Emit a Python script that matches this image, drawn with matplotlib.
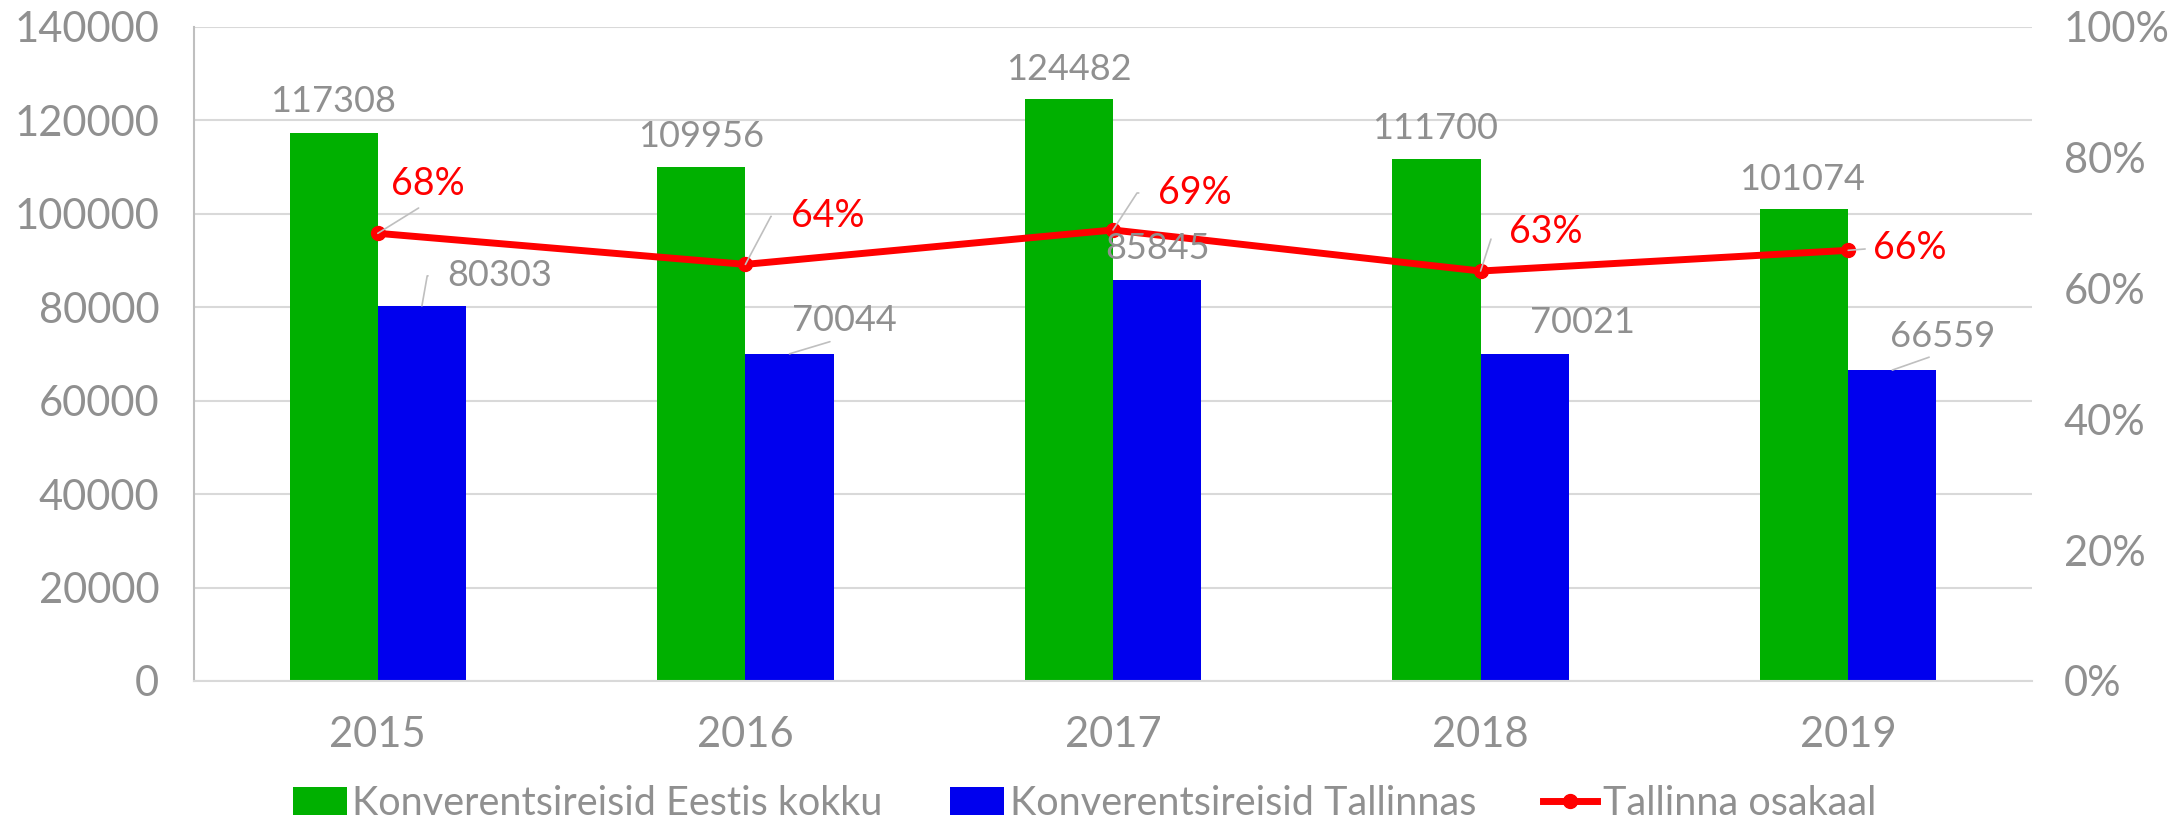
import matplotlib
matplotlib.use("Agg")
import matplotlib.pyplot as plt
from matplotlib.ticker import FuncFormatter
import numpy as np

plt.rcParams["font.family"] = ["Lato", "DejaVu Sans"]

years = ["2015", "2016", "2017", "2018", "2019"]
eesti = [117308, 109956, 124482, 111700, 101074]
tallinn = [80303, 70044, 85845, 70021, 66559]
share = [t / e for t, e in zip(tallinn, eesti)]

name_eesti = "Konverentsireisid Eestis kokku"
name_tallinn = "Konverentsireisid Tallinnas"
name_share = "Tallinna osakaal"

GREEN = "#00b000"
BLUE = "#0000ee"
RED = "#ff0000"
GREY = "#909090"
GRID = "#d9d9d9"
LEADER = "#bfbfbf"

# label offsets in pixels from the mark (text centre), plus leader style
eesti_off = [(-1, 32), (0, 31), (0, 30), (-1, 31), (-2, 29)]
tallinn_off = [(78, 30), (55, 33), (0, 31), (58, 31), (50, 34)]
tallinn_lead = [("elbow", 80), ("bottom", None), None, None, ("bottom", None)]
share_off = [(50, 49), (82, 48), (82, 37), (65, 39), (62, 2)]
share_lead = [("bottom", None), ("elbow", 62), ("elbow", 57), ("elbow", 72), ("left", None)]

fig = plt.figure(figsize=(21.69, 8.19), dpi=100)
ax = fig.add_axes([194 / 2169, 138 / 819, 1838 / 2169, 654 / 819])
ax2 = ax.twinx()

x = np.arange(len(years))
w = 0.24
ax.bar(x - w / 2, eesti, w, color=GREEN, label=name_eesti, zorder=2)
ax.bar(x + w / 2, tallinn, w, color=BLUE, label=name_tallinn, zorder=2)
ax2.plot(x, share, color=RED, lw=5, marker="o", ms=10, label=name_share, zorder=3)

ax.set_xlim(-0.5, len(years) - 0.5)
ax.set_ylim(0, 140000)
ax.set_yticks(np.arange(0, 140001, 20000))
ax2.set_ylim(0, 1)
ax2.set_yticks(np.arange(0, 1.01, 0.2))
ax2.yaxis.set_major_formatter(FuncFormatter(lambda v, p: f"{v * 100:.0f}%"))
ax.set_xticks(x)
ax.set_xticklabels(years)

ax.grid(axis="y", color=GRID, lw=1.5, zorder=0)
ax.set_axisbelow(True)
for a in (ax, ax2):
    for s in ("top", "right", "left", "bottom"):
        a.spines[s].set_visible(False)
ax.spines["left"].set_visible(True)
ax.spines["left"].set_color(LEADER)
ax.spines["left"].set_linewidth(1.5)
ax.spines["bottom"].set_visible(True)
ax.spines["bottom"].set_color(GRID)
ax.spines["bottom"].set_linewidth(1.5)

ax.tick_params(axis="y", length=0, pad=25, labelsize=30, labelcolor=GREY)
ax.tick_params(axis="x", length=0, pad=25, labelsize=30, labelcolor=GREY)
ax2.tick_params(axis="y", length=0, pad=23, labelsize=30, labelcolor=GREY)


def leader(kind, ang):
    props = dict(arrowstyle="-", color=LEADER, lw=1.2, shrinkA=4, shrinkB=0)
    if kind == "elbow":
        props["relpos"] = (0, 0.5)
        props["connectionstyle"] = f"angle,angleA=0,angleB={ang},rad=0"
        props["shrinkA"] = 12
    elif kind == "bottom":
        props["relpos"] = (0.5, 0)
    elif kind == "left":
        props["relpos"] = (0, 0.5)
    return props


for i in range(len(years)):
    ax2.annotate(str(eesti[i]), xy=(x[i] - w / 2, eesti[i]), xycoords=ax.transData,
                 xytext=eesti_off[i], textcoords="offset pixels",
                 ha="center", va="center", fontsize=26, color=GREY)
    lead = tallinn_lead[i]
    ax2.annotate(str(tallinn[i]), xy=(x[i] + w / 2, tallinn[i]), xycoords=ax.transData,
                 xytext=tallinn_off[i], textcoords="offset pixels",
                 ha="center", va="center", fontsize=26, color=GREY,
                 arrowprops=leader(*lead) if lead else None, zorder=4)
    lead = share_lead[i]
    ax2.annotate(f"{share[i] * 100:.0f}%", xy=(x[i], share[i]),
                 xytext=share_off[i], textcoords="offset pixels",
                 ha="center", va="center", fontsize=27, color=RED,
                 arrowprops=leader(*lead) if lead else None, zorder=4)

h1, l1 = ax.get_legend_handles_labels()
h2, l2 = ax2.get_legend_handles_labels()
leg = fig.legend(h1 + h2, l1 + l2, loc="center", bbox_to_anchor=(0.5, 0.019), ncol=3,
                 frameon=False, fontsize=28.5, handlelength=1.35, handletextpad=0.15,
                 columnspacing=1.7, borderaxespad=0)
for t in leg.get_texts():
    t.set_color(GREY)

fig.savefig("out.png", dpi=100)
